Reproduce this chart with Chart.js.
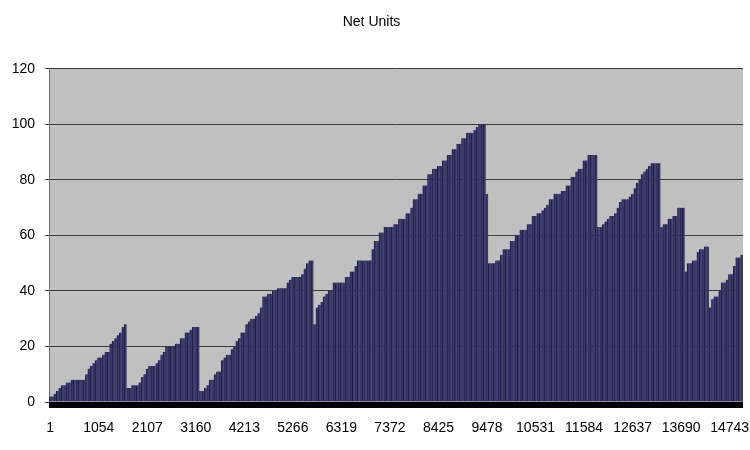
<!DOCTYPE html>
<html>
<head>
<meta charset="utf-8">
<title>Net Units</title>
<script src="https://cdn.jsdelivr.net/npm/chart.js@4.4.1/dist/chart.umd.min.js"></script>
<style>
  html, body { margin: 0; padding: 0; background: #fff; }
  #wrap { width: 750px; height: 450px; position: relative; }
</style>
</head>
<body>
<div id="wrap"><canvas id="chart"></canvas></div>
<script>
var chartTitle = "Net Units";

// one bar covers 1053 / 20 records, so a label lands on every 20th bar
var barsPerTick = 20;
var xTickLabels = ["1", "1054", "2107", "3160", "4213", "5266", "6319", "7372",
                   "8425", "9478", "10531", "11584", "12637", "13690", "14743"];
var yMin = 0;
var yMax = 120;
var yStep = 20;

var netUnits = [
  2, 2, 3, 4, 5, 6, 6, 7, 7, 8,
  8, 8, 8, 8, 8, 10, 12, 13, 14, 15,
  16, 16, 17, 18, 18, 21, 22, 23, 24, 25,
  27, 28,
  5, 5, 6, 6, 6, 7, 9, 10, 12, 13,
  13, 13, 14, 15, 17, 18, 20, 20, 20, 20,
  21, 21, 23, 23, 25, 25, 26, 27, 27, 27,
  4, 4, 5, 6, 8, 8, 10, 11, 11, 15,
  16, 17, 17, 19, 20, 22, 23, 25, 25, 28,
  29, 30, 30, 31, 32, 34, 38, 38, 39, 39,
  40, 40, 41, 41, 41, 41, 43, 44, 45, 45,
  45, 45, 46, 48, 50, 51, 51,
  28, 34, 35, 36, 38, 39, 40, 40, 43, 43,
  43, 43, 43, 45, 45, 47, 47, 49, 51, 51,
  51, 51, 51, 51, 55, 58, 58, 61, 61, 63,
  63, 63, 63, 64, 64, 66, 66, 66, 68, 68,
  70, 73, 73, 75, 75, 78, 78, 82, 82, 84,
  84, 85, 85, 87, 87, 89, 89, 91, 91, 93,
  93, 95, 95, 97, 97, 97, 98, 99, 100, 100,
  100,
  75, 50, 50, 50, 51, 51, 53, 55, 55, 55,
  58, 58, 60, 60, 62, 62, 62, 64, 64, 67,
  67, 68, 68, 69, 70, 71, 73, 73, 75, 75,
  75, 76, 76, 78, 78, 81, 81, 83, 84, 84,
  87, 87, 89, 89, 89, 89,
  63, 63, 64, 65, 66, 67, 67, 68, 70, 72,
  73, 73, 73, 74, 75, 77, 79, 80, 82, 83,
  84, 85, 86, 86, 86, 86,
  63, 64, 64, 66, 66, 67, 67, 70, 70, 70,
  47, 50, 50, 51, 51, 54, 55, 55, 56, 56,
  34, 37, 38, 38, 40, 43, 43, 44, 46, 46,
  49, 52, 52, 53
];

var categories = netUnits.map(function (v, i) {
  return String(Math.round(1 + i * 1053 / barsPerTick));
});

// grey plot area and the black floor strip under the bars
var plotBackground = {
  id: "plotBackground",
  beforeDraw: function (chart) {
    var a = chart.chartArea;
    var ctx = chart.ctx;
    ctx.save();
    ctx.fillStyle = "#c0c0c0";
    ctx.fillRect(a.left, a.top, a.right - a.left, a.bottom - a.top);
    ctx.restore();
  },
  afterDatasetsDraw: function (chart) {
    var a = chart.chartArea;
    var ctx = chart.ctx;
    ctx.save();
    ctx.fillStyle = "#000000";
    ctx.fillRect(a.left, a.bottom, a.right - a.left, 6);
    ctx.restore();
  }
};

var chartElement = document.getElementById("chart");

var chart = new Chart(chartElement, {
  type: "bar",
  data: {
    labels: categories,
    datasets: [{
      label: chartTitle,
      data: netUnits,
      backgroundColor: "#3b3b72",
      borderColor: "#1d1d3e",
      borderWidth: { left: 1, right: 0, top: 0, bottom: 0 },
      borderSkipped: false,
      barPercentage: 1,
      categoryPercentage: 1
    }]
  },
  options: {
    responsive: true,
    maintainAspectRatio: false,
    animation: false,
    layout: {
      padding: { left: 0, right: 7, top: 0, bottom: 0 }
    },
    plugins: {
      legend: { display: false },
      tooltip: { enabled: false },
      title: {
        display: true,
        text: chartTitle,
        color: "#000000",
        font: { family: "'Liberation Sans', Arial, sans-serif", size: 14, weight: "normal" },
        padding: { top: 14, bottom: 38 }
      }
    },
    scales: {
      x: {
        // tick marks hidden, but their length pushes the labels down
        grid: { display: false, drawTicks: true, tickLength: 18 },
        border: { display: false },
        ticks: {
          autoSkip: false,
          maxRotation: 0,
          minRotation: 0,
          padding: 0,
          color: "#000000",
          font: { family: "'Liberation Sans', Arial, sans-serif", size: 14 },
          callback: function (value, index) {
            if (index % barsPerTick === 0) {
              return xTickLabels[index / barsPerTick];
            }
            return null;
          }
        },
        afterFit: function (scale) {
          scale.height = 48;
        }
      },
      y: {
        min: yMin,
        max: yMax,
        grid: {
          color: "#3c3c3c",
          lineWidth: 1,
          drawTicks: true,
          tickLength: 4
        },
        border: { display: true, color: "#6e6e6e", width: 1 },
        ticks: {
          stepSize: yStep,
          padding: 10,
          color: "#000000",
          font: { family: "'Liberation Sans', Arial, sans-serif", size: 14 }
        },
        afterFit: function (scale) {
          scale.width = 49;
        }
      }
    }
  },
  plugins: [plotBackground]
});
</script>
</body>
</html>
